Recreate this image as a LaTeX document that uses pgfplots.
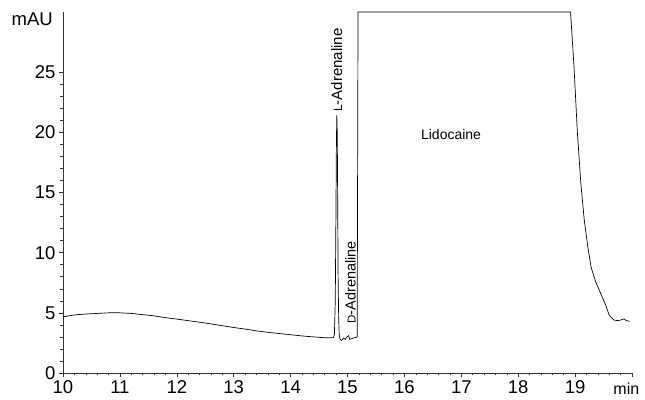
\documentclass[border=0pt]{standalone}
\usepackage{fontspec}
\setmainfont{Liberation Sans}
\usepackage{pgfplots}
\pgfplotsset{compat=1.18}
\begin{document}
\begin{tikzpicture}
\begin{axis}[
  name=ax,
  scale only axis,
  width=569pt, height=361pt,
  xmin=10, xmax=20, ymin=0, ymax=30,
  axis lines=left,
  axis line style={-, line width=0.6pt, black!80},
  xtick={10,11,...,20},
  xticklabels={10,11,12,13,14,15,16,17,18,19,{}},
  ytick={0,5,10,15,20,25},
  minor x tick num=4,
  minor y tick num=4,
  tick align=outside,
  major tick length=4pt,
  minor tick length=2.5pt,
  tick style={line width=0.5pt, black!80},
  ticklabel style={font=\fontsize{18.5}{20}\selectfont},
  /pgf/number format/assume math mode=true,
  clip=false,
]
\addplot[black, line width=0.7pt] coordinates {
(10.00,4.65) (10.10,4.75) (10.25,4.85) (10.40,4.90) (10.60,4.95) (10.80,5.00)
(11.00,5.00) (11.20,4.95) (11.40,4.85) (11.60,4.75) (11.80,4.60) (12.00,4.48)
(12.20,4.35) (12.40,4.22) (12.60,4.08) (12.80,3.93) (13.00,3.78) (13.20,3.65)
(13.40,3.50) (13.60,3.38) (13.80,3.28) (14.00,3.18) (14.20,3.08) (14.40,3.00)
(14.60,2.93) (14.75,2.92) (14.77,3.2) (14.785,6) (14.795,12) (14.805,19)
(14.812,21.4) (14.82,20.0) (14.828,14) (14.835,8) (14.845,4.5) (14.855,3.1)
(14.87,2.8) (14.90,2.7) (14.93,2.9) (14.96,2.8) (14.99,3.0) (15.02,3.1)
(15.04,2.8) (15.07,2.85) (15.10,2.9) (15.14,2.95) (15.17,3.0) (15.185,30)
(18.92,30) (18.98,25.5) (19.04,20) (19.10,15.8) (19.16,12.75) (19.22,10.6)
(19.28,8.8) (19.36,7.6) (19.46,6.5) (19.54,5.6) (19.60,4.8) (19.68,4.4) (19.75,4.35)
(19.80,4.4) (19.86,4.5) (19.90,4.35) (19.96,4.3)
};
\node[anchor=east, inner sep=0pt, font=\fontsize{18.5}{20}\selectfont] at ([xshift=-10pt]axis cs:10,29.4) {mAU};
\node[anchor=base, inner sep=0pt, font=\fontsize{16}{18}\selectfont] at ([yshift=-22pt]axis cs:19.9,0) {min};
\node[font=\fontsize{14}{16}\selectfont] at (axis cs:16.82,19.8) {Lidocaine};
\node[rotate=90, anchor=west, inner sep=1pt, font=\fontsize{15}{17}\selectfont] at (axis cs:14.81,21.6) {{\fontsize{12}{13}\selectfont L}-Adrenaline};
\node[rotate=90, anchor=west, inner sep=1pt, font=\fontsize{14.5}{16}\selectfont] at (axis cs:15.05,4.0) {{\fontsize{11.5}{12}\selectfont D}-Adrenaline};
\end{axis}
\pgfresetboundingbox
\path[use as bounding box] ([shift={(-63pt,-27pt)}]ax.south west) rectangle ([shift={(13pt,12pt)}]ax.north east);
\end{tikzpicture}
\end{document}
